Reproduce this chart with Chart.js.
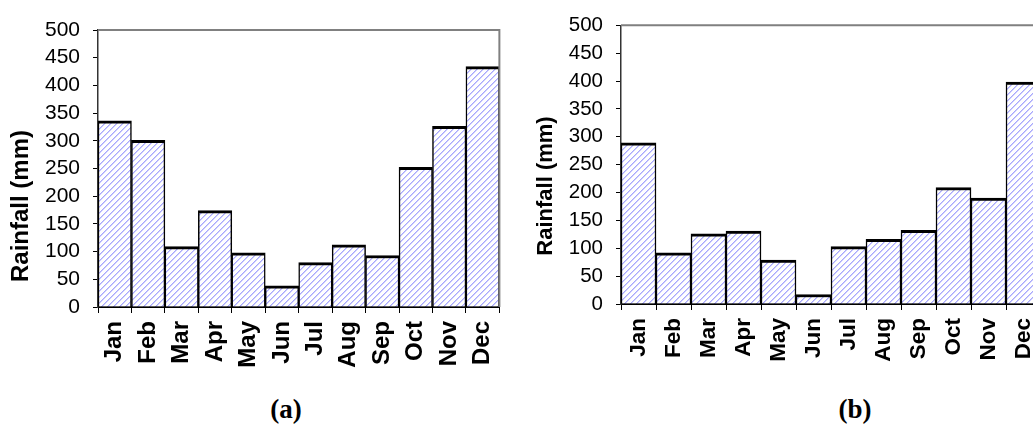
<!DOCTYPE html>
<html>
<head>
<meta charset="UTF-8">
<title>Monthly rainfall</title>
<style>
  body {
    margin: 0;
    background: #fff;
    width: 1033px;
    height: 443px;
    overflow: hidden;
    position: relative;
    font-family: "Liberation Sans", Arial, sans-serif;
  }
  .box { position: absolute; top: 0; height: 380px; }
  #boxA { left: 0; width: 520px; }
  #boxB { left: 520px; width: 540px; }
  .caption {
    position: absolute;
    top: 394px;
    font-family: "Liberation Serif", "Times New Roman", serif;
    font-weight: bold;
    font-size: 27px;
    transform: translateX(-50%);
  }
</style>
<script src="https://cdn.jsdelivr.net/npm/chart.js"></script>
</head>
<body>
  <div class="box" id="boxA"><canvas id="chartA"></canvas></div>
  <div class="box" id="boxB"><canvas id="chartB"></canvas></div>
  <div class="caption" style="left:286px">(a)</div>
  <div class="caption" style="left:855px">(b)</div>

<script>
var months = ['Jan', 'Feb', 'Mar', 'Apr', 'May', 'Jun', 'Jul', 'Aug', 'Sep', 'Oct', 'Nov', 'Dec'];
var rainA = [336, 301, 109, 174, 98, 38, 80, 112, 93, 252, 326, 434];
var rainB = [289, 92, 126, 131, 79, 17, 103, 116, 132, 209, 190, 398];
var yMin = 0;
var yMax = 500;
var yStep = 50;
var yTitle = 'Rainfall (mm)';

// diagonal hatch like the excel fill, drawn pixel by pixel so it stays crisp
function hatch() {
  var n = 6;
  var c = document.createElement('canvas');
  c.width = n; c.height = n;
  var g = c.getContext('2d');
  g.fillStyle = '#fff';
  g.fillRect(0, 0, n, n);
  for (var y = 0; y < n; y++) {
    var x = (n - 1 - y + n) % n;
    g.fillStyle = 'rgb(168,168,252)';
    g.fillRect(x, y, 1, 1);
    g.fillStyle = 'rgb(206,206,254)';
    g.fillRect((x + 1) % n, y, 1, 1);
  }
  return g.createPattern(c, 'repeat');
}

// grey frame on top and right, and the rotated y title
var framePlugin = {
  id: 'frame',
  afterDraw: function(chart, args, opts) {
    var ctx = chart.ctx, a = chart.chartArea;
    ctx.save();
    ctx.strokeStyle = '#808080';
    ctx.lineWidth = 2;
    ctx.beginPath();
    ctx.moveTo(a.left, a.top);
    ctx.lineTo(a.right, a.top);
    ctx.lineTo(a.right, a.bottom);
    ctx.stroke();
    ctx.translate(opts.titleX, opts.titleY);
    ctx.rotate(-Math.PI / 2);
    ctx.font = 'bold ' + opts.titleSize + 'px "Liberation Sans", Arial, sans-serif';
    ctx.fillStyle = '#000';
    ctx.textAlign = 'center';
    ctx.textBaseline = 'middle';
    ctx.fillText(yTitle, 0, 0);
    ctx.restore();
  }
};

function makeChart(id, values, o) {
  return new Chart(document.getElementById(id), {
    type: 'bar',
    data: {
      labels: months,
      datasets: [{
        data: values,
        backgroundColor: hatch(),
        borderColor: '#000',
        borderWidth: { top: 3, left: 1.5, right: 1.5, bottom: 0 },
        borderSkipped: false,
        categoryPercentage: 1,
        barPercentage: 1
      }]
    },
    options: {
      responsive: true,
      maintainAspectRatio: false,
      animation: false,
      layout: { padding: { top: o.top, right: o.right, left: 0, bottom: 0 } },
      plugins: {
        legend: { display: false },
        tooltip: { enabled: false },
        frame: { titleX: o.titleX, titleY: o.titleY, titleSize: o.titleSize }
      },
      scales: {
        x: {
          offset: true,
          grid: { offset: true, drawOnChartArea: false, tickLength: 6, color: '#000' },
          border: { color: '#000', width: 2 },
          ticks: {
            autoSkip: false,
            minRotation: 90,
            maxRotation: 90,
            padding: 8,
            color: '#000',
            font: { size: o.xFont, weight: 'bold', family: '"Liberation Sans", Arial, sans-serif' }
          },
          afterFit: function(s) { s.height = o.xHeight; }
        },
        y: {
          min: yMin,
          max: yMax,
          grid: { drawOnChartArea: false, tickLength: 5, color: '#000' },
          border: { color: '#333', width: 1.5 },
          ticks: {
            stepSize: yStep,
            autoSkip: false,
            padding: 13,
            color: '#000',
            font: { size: o.yFont, family: '"Liberation Sans", Arial, sans-serif' }
          },
          afterFit: function(s) { s.width = o.yWidth; }
        }
      }
    },
    plugins: [framePlugin]
  });
}

makeChart('chartA', rainA, {
  top: 30, right: 13, xHeight: 73, yWidth: 98,
  xFont: 24, yFont: 21, titleX: 21, titleY: 206, titleSize: 24
});
makeChart('chartB', rainB, {
  top: 16, right: 19, xHeight: 76, yWidth: 101,
  xFont: 22.5, yFont: 20.5, titleX: 26, titleY: 186, titleSize: 22
});
</script>
</body>
</html>
